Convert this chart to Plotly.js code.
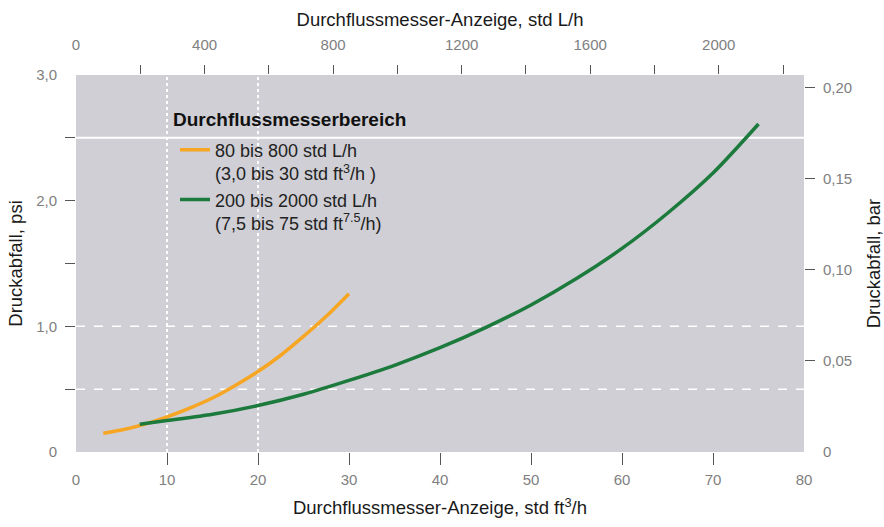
<!DOCTYPE html>
<html><head><meta charset="utf-8">
<script src="https://cdn.plot.ly/plotly-3.0.1.min.js"></script>
<style>html,body{margin:0;padding:0;background:#fff}#chart{width:884px;height:527px}</style>
</head><body><div id="chart"></div>
<script>
// ---- data ----
const orangeX = [3, 5, 7, 10, 12.5, 15, 17.5, 20, 22.5, 25, 27.5, 30];
const orangeY = [0.15, 0.175, 0.21, 0.28, 0.35, 0.43, 0.53, 0.64, 0.77, 0.92, 1.08, 1.26];
const greenX = [7, 10, 15, 20, 25, 30, 35, 40, 45, 50, 55, 60, 65, 70, 75];
const greenY = [0.22, 0.25, 0.30, 0.37, 0.46, 0.57, 0.69, 0.83, 0.99, 1.17, 1.38, 1.62, 1.90, 2.22, 2.61];
const seriesNames = [
  "80 bis 800 std L/h<br>(3,0 bis 30 std ft<sup>3</sup>/h )",
  "200 bis 2000 std L/h<br>(7,5 bis 75 std ft<sup>7.5</sup>/h)"
];
const legendTitle = "Durchflussmesserbereich";

const xTickVals = [10, 20, 30, 40, 50, 60, 70];
const xLabelVals = [0, 10, 20, 30, 40, 50, 60, 70, 80];
const xLabelText = ["0", "10", "20", "30", "40", "50", "60", "70", "80"];
const yTickVals = [0.5, 1.0, 1.5, 2.0, 2.5];
const yLabelVals = [0, 1, 2, 3];
const yLabelText = ["0", "1,0", "2,0", "3,0"];
const topTickVals = [200, 400, 600, 800, 1000, 1200, 1400, 1600, 1800, 2000, 2200];
const topLabelVals = [0, 400, 800, 1200, 1600, 2000];
const topLabelText = ["0", "400", "800", "1200", "1600", "2000"];
const barTickVals = [0.05, 0.10, 0.15, 0.20];
const barLabelVals = [0, 0.05, 0.10, 0.15, 0.20];
const barLabelText = ["0", "0,05", "0,10", "0,15", "0,20"];
const gridXDashed = [10, 20];
const gridYDashed = [0.5, 1.0];
const gridYSolid = [2.5];

const LPH_PER_FT3 = 28.3168;
const PSI_PER_BAR = 14.5038;
const xMax = 80, yMax = 3;

// ---- styling ----
const FONT = "Liberation Sans, Arial, Helvetica, sans-serif";
const tickFont = {family: FONT, size: 15, color: "#808080"};
const titleFont = {family: FONT, size: 18.5, color: "#1a1a1a"};
const ORANGE = "#f6a623", GREEN = "#1b7a3c";

const traces = [
  {x: orangeX, y: orangeY, mode: "lines", name: seriesNames[0], line: {color: ORANGE, width: 3.5, shape: "spline", smoothing: 0.8}, xaxis: "x", yaxis: "y"},
  {x: greenX, y: greenY, mode: "lines", name: seriesNames[1], line: {color: GREEN, width: 3.5, shape: "spline", smoothing: 0.8}, xaxis: "x", yaxis: "y"},
  {x: [], y: [], xaxis: "x2", yaxis: "y2", showlegend: false, hoverinfo: "skip"},
  {x: [], y: [], xaxis: "x3", yaxis: "y3", showlegend: false, hoverinfo: "skip"},
  {x: [], y: [], xaxis: "x4", yaxis: "y4", showlegend: false, hoverinfo: "skip"}
];

const baseAx = {showgrid: false, zeroline: false, showline: false, fixedrange: true, autorange: false};
const tickOnly = Object.assign({}, baseAx, {ticks: "outside", tickcolor: "#555", tickwidth: 1, showticklabels: false, tickmode: "array"});
const labelOnly = Object.assign({}, baseAx, {ticks: "outside", tickcolor: "rgba(0,0,0,0)", tickmode: "array", tickfont: tickFont});

const shapes = [];
gridXDashed.forEach(v => shapes.push({type: "line", xref: "x", yref: "y", x0: v, x1: v, y0: 0, y1: yMax, layer: "below", line: {color: "#ffffff", width: 2, dash: "dot"}}));
gridYDashed.forEach(v => shapes.push({type: "line", xref: "x", yref: "y", x0: 0, x1: xMax, y0: v, y1: v, layer: "below", line: {color: "#ffffff", width: 1.5, dash: "dash"}}));
gridYSolid.forEach(v => shapes.push({type: "line", xref: "x", yref: "y", x0: 0, x1: xMax, y0: v, y1: v, layer: "below", line: {color: "#ffffff", width: 2}}));

const layout = {
  width: 884, height: 527,
  margin: {l: 76, r: 80, t: 75, b: 75, pad: 0},
  paper_bgcolor: "#ffffff",
  plot_bgcolor: "#cfcfd5",
  showlegend: true,
  legend: {x: 0.136, y: 0.85, xanchor: "left", yanchor: "top", bgcolor: "rgba(0,0,0,0)", font: {family: FONT, size: 18, color: "#222"}, valign: "top", tracegroupgap: 6},
  xaxis: Object.assign({}, tickOnly, {range: [0, xMax], tickvals: xTickVals, ticklen: 12}),
  yaxis: Object.assign({}, tickOnly, {range: [0, yMax], tickvals: yTickVals, ticklen: 10}),
  xaxis2: Object.assign({}, tickOnly, {range: [0, xMax * LPH_PER_FT3], tickvals: topTickVals, ticklen: 9, side: "top", overlaying: "x", anchor: "y2"}),
  yaxis2: Object.assign({}, tickOnly, {range: [0, yMax / PSI_PER_BAR], tickvals: barTickVals, ticklen: 10, side: "right", overlaying: "y", anchor: "x2"}),
  xaxis3: Object.assign({}, labelOnly, {range: [0, xMax], tickvals: xLabelVals, ticktext: xLabelText, ticklen: 14, side: "bottom", overlaying: "x", anchor: "y3",
    title: {text: "Durchflussmesser-Anzeige, std ft<sup>3</sup>/h", font: titleFont, standoff: 14}}),
  yaxis3: Object.assign({}, labelOnly, {range: [0, yMax], tickvals: yLabelVals, ticktext: yLabelText, ticklen: 15, side: "left", overlaying: "y", anchor: "x3",
    title: {text: "Druckabfall, psi", font: titleFont, standoff: 8}}),
  xaxis4: Object.assign({}, labelOnly, {range: [0, xMax * LPH_PER_FT3], tickvals: topLabelVals, ticktext: topLabelText, ticklen: 18, side: "top", overlaying: "x", anchor: "y4",
    title: {text: "Durchflussmesser-Anzeige, std L/h", font: titleFont, standoff: 4}}),
  yaxis4: Object.assign({}, labelOnly, {range: [0, yMax / PSI_PER_BAR], tickvals: barLabelVals, ticktext: barLabelText, ticklen: 15, side: "right", overlaying: "y", anchor: "x4",
    title: {text: "Druckabfall, bar", font: titleFont, standoff: 16}}),
  shapes: shapes,
  annotations: [{text: "<b>" + legendTitle + "</b>", xref: "paper", yref: "paper", x: 0.1305, y: 0.882, xanchor: "left", yanchor: "middle", showarrow: false,
    font: {family: FONT, size: 19, color: "#111"}}]
};

Plotly.newPlot("chart", traces, layout, {displayModeBar: false, staticPlot: true});
</script>
</body></html>
